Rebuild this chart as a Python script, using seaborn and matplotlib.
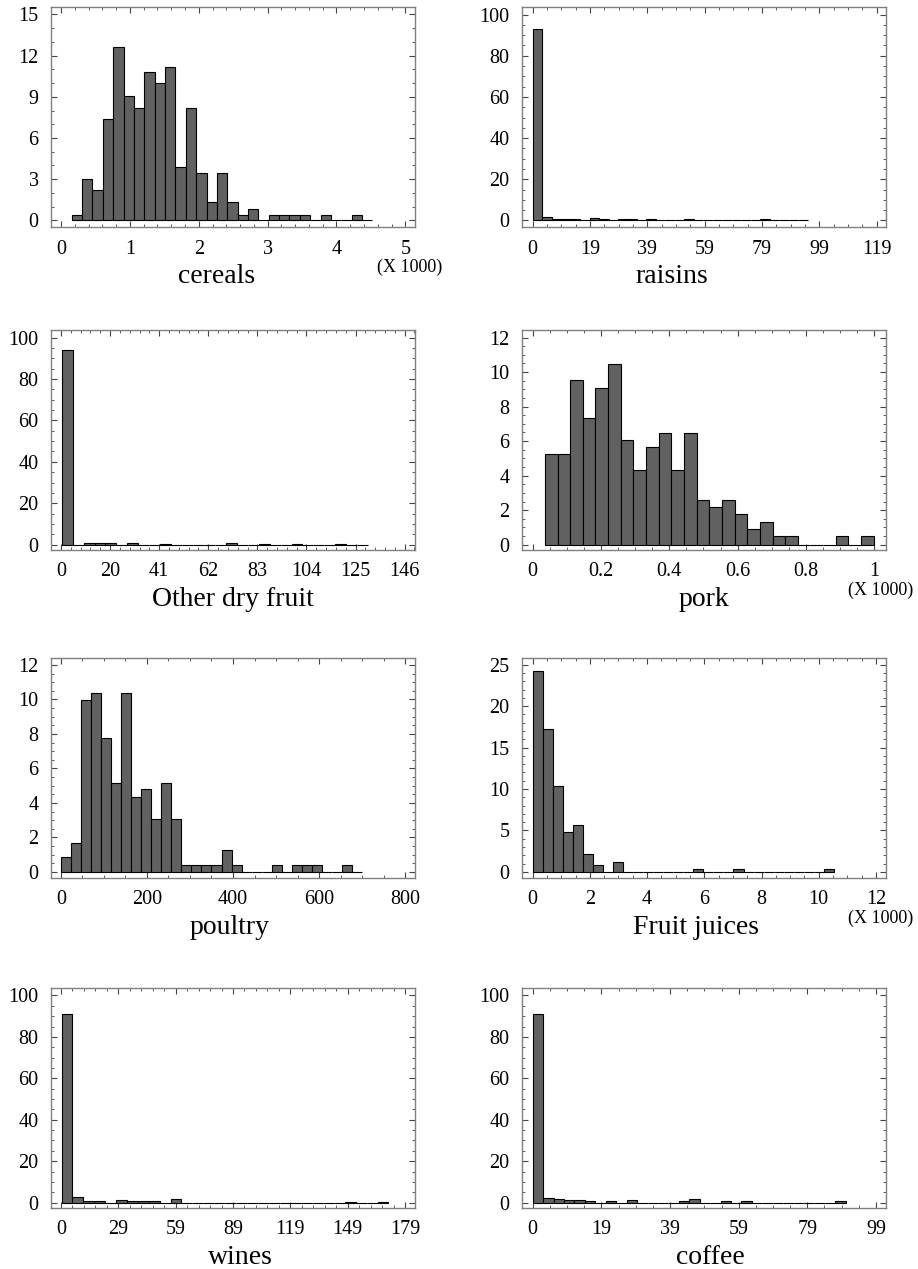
import numpy as np
import pandas as pd
import seaborn as sns
import matplotlib.pyplot as plt
from matplotlib.ticker import AutoMinorLocator

sns.set_style("ticks")
plt.rcParams['font.family'] = ['Liberation Serif', 'DejaVu Serif']

# percentage per bin
cereals = [0.4, 3.0, 2.2, 7.4, 12.6, 9.05, 8.2, 10.8, 10.0, 11.2, 3.9, 8.2, 3.45, 1.35, 3.45,
           1.35, 0.4, 0.85, 0, 0.4, 0.4, 0.4, 0.4, 0, 0.4, 0, 0, 0.4, 0]
raisins = [93, 1.8, 0.5, 0.5, 0.5, 0, 1.2, 0.7, 0, 0.8, 0.5, 0, 0.5, 0, 0, 0, 0.5, 0, 0, 0,
           0, 0, 0, 0, 0.5, 0, 0, 0, 0]
dry_fruit = [94, 0, 1.0, 1.0, 0.6, 0, 1.0, 0, 0, 0.5, 0, 0, 0, 0, 0, 1.0, 0, 0, 0.5, 0, 0,
             0.5, 0, 0, 0, 0.5, 0, 0]
pork = [5.23, 5.23, 9.53, 7.36, 9.1, 10.45, 6.08, 4.34, 5.66, 6.49, 4.34, 6.49, 2.6, 2.17,
        2.6, 1.78, 0.91, 1.34, 0.48, 0.48, 0, 0, 0, 0.48, 0, 0.48]
poultry = [0.87, 1.7, 9.98, 10.37, 7.79, 5.17, 10.37, 4.36, 4.79, 3.06, 5.17, 3.06, 0.43, 0.43,
           0.43, 0.43, 1.3, 0.43, 0, 0, 0, 0.43, 0, 0.43, 0.43, 0.43, 0, 0, 0.43, 0]
juices = [24.2, 17.26, 10.4, 4.76, 5.65, 2.18, 0.89, 0, 1.25, 0, 0, 0, 0, 0, 0, 0, 0.4, 0, 0,
          0, 0.4, 0, 0, 0, 0, 0, 0, 0, 0, 0.4]
wines = [90.9, 2.6, 0.6, 1.0, 0, 1.5, 0.6, 1.0, 0.6, 0, 1.6, 0, 0, 0, 0, 0, 0, 0, 0, 0, 0, 0,
         0, 0, 0, 0, 0.5, 0, 0, 0.5]
coffee = [91, 2.3, 1.7, 1.2, 1.2, 0.6, 0, 0.6, 0, 1.2, 0, 0, 0, 0, 0.6, 1.9, 0, 0, 0.6, 0, 0.6,
          0, 0, 0, 0, 0, 0, 0, 0, 0.6]

# bin start and bin width for each variable
bin_start = [0.155, 0, 0.3, 0.036, 0.5, 0, 0.3, 0]
bin_width = [0.1506, 3.28, 4.65, 0.037, 23.3, 0.351, 5.67, 3.01]

names = ["cereals", "raisins", "Other dry fruit", "pork", "poultry", "Fruit juices", "wines", "coffee"]
series = [cereals, raisins, dry_fruit, pork, poultry, juices, wines, coffee]

xtick_labels = [["0", "1", "2", "3", "4", "5"],
                ["0", "19", "39", "59", "79", "99", "119"],
                ["0", "20", "41", "62", "83", "104", "125", "146"],
                ["0", "0.2", "0.4", "0.6", "0.8", "1"],
                ["0", "200", "400", "600", "800"],
                ["0", "2", "4", "6", "8", "10", "12"],
                ["0", "29", "59", "89", "119", "149", "179"],
                ["0", "19", "39", "59", "79", "99"]]
xtick_max = [5, 119, 146, 1, 800, 12, 179, 99]
ytick_step = [3, 20, 20, 2, 2, 5, 20, 20]
ytick_max = [15, 100, 100, 12, 12, 25, 100, 100]
x1000 = [True, False, False, True, False, True, False, False]

xlims = [(-0.145, 5.14), (-3.7, 122.2), (-4.25, 150.4), (-0.031, 1.034),
         (-23, 823), (-0.37, 12.35), (-5.2, 184.2), (-3.1, 101.9)]
ylims = [(-0.48, 15.54), (-3.2, 103.7), (-2.6, 103.7), (-0.31, 12.44),
         (-0.35, 12.4), (-0.73, 25.8), (-2.6, 103.6), (-2.6, 103.6)]
x_minor = [5, 4, 5, 4, 4, 4, 5, 4]
y_minor = [3, 4, 4, 4, 4, 5, 4, 4]
label_shift = [-16, -32, 0, 0, -3, -8, 7, 6]  # px, label offset from axes centre

W, H = 918, 1269
fig = plt.figure(figsize=(W / 100, H / 100), dpi=100)
col_left = [51, 522]
row_top = [7, 330, 658, 988]
aw, ah = 364, 220

for i in range(8):
    r, c = divmod(i, 2)
    ax = fig.add_axes([col_left[c] / W, 1 - (row_top[r] + ah) / H, aw / W, ah / H])
    h = np.array(series[i], dtype=float)
    edges = bin_start[i] + bin_width[i] * np.arange(len(h) + 1)
    df = pd.DataFrame({"mid": (edges[:-1] + edges[1:]) / 2, "pct": h})
    sns.histplot(data=df, x="mid", weights="pct", bins=list(edges), ax=ax, color="#616161",
                 edgecolor="black", linewidth=0.8, alpha=1)
    ax.set_xlim(*xlims[i])
    ax.set_ylim(*ylims[i])
    nx = len(xtick_labels[i])
    ax.set_xticks(np.linspace(0, xtick_max[i], nx))
    ax.set_xticklabels(xtick_labels[i])
    ax.set_yticks(np.arange(0, ytick_max[i] + 0.01, ytick_step[i]))
    ax.xaxis.set_minor_locator(AutoMinorLocator(x_minor[i]))
    ax.yaxis.set_minor_locator(AutoMinorLocator(y_minor[i]))
    ax.tick_params(which="both", direction="in", top=True, right=True, color="#444444",
                   labelcolor="black")
    ax.tick_params(which="major", length=4.5, width=0.8, labelsize=14.5, pad=9)
    ax.tick_params(which="minor", length=2.2, width=0.6)
    for s in ax.spines.values():
        s.set_color("#808080")
        s.set_linewidth(1.0)
    ax.set_ylabel("")
    ax.set_xlabel(names[i], fontsize=20, labelpad=4, color="black")
    ax.xaxis.label.set_x(0.5 + label_shift[i] / aw)
    if x1000[i]:
        ax.text(0.986, -0.185, "(X 1000)", transform=ax.transAxes, ha="center",
                va="center", fontsize=13, color="black")

fig.savefig("out.png", dpi=100)
